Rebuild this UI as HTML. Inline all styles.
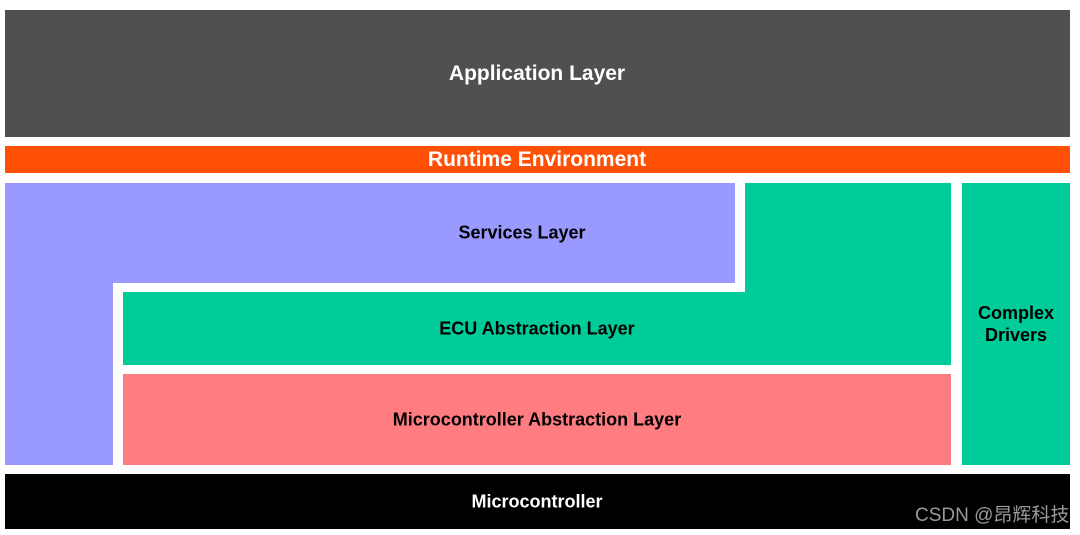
<!DOCTYPE html>
<html><head><meta charset="utf-8"><style>
body{margin:0;width:1080px;height:535px;background:#fff;position:relative;overflow:hidden;font-family:"Liberation Sans",Arial,sans-serif;font-weight:bold}
div.b{position:absolute}
.t{position:absolute;white-space:nowrap;transform:translate(-50%,-50%);text-align:center}
</style></head><body>
<div class="b" style="left:5px;top:10px;width:1065px;height:127px;background:#505050"></div>
<div class="t" style="left:537px;top:74px;color:#fff;font-size:21px">Application Layer</div>
<div class="b" style="left:5px;top:146px;width:1065px;height:27px;background:#ff5005"></div>
<div class="t" style="left:537px;top:160px;color:#fff;font-size:21px">Runtime Environment</div>
<div class="b" style="left:5px;top:183px;width:730px;height:100px;background:#9999ff"></div>
<div class="b" style="left:5px;top:283px;width:108px;height:182px;background:#9999ff"></div>
<div class="t" style="left:522px;top:233px;color:#000;font-size:18px">Services Layer</div>
<div class="b" style="left:745px;top:183px;width:206px;height:182px;background:#00cc99"></div>
<div class="b" style="left:123px;top:292px;width:828px;height:73px;background:#00cc99"></div>
<div class="t" style="left:537px;top:329px;color:#000;font-size:18px">ECU Abstraction Layer</div>
<div class="b" style="left:962px;top:183px;width:108px;height:282px;background:#00cc99"></div>
<div class="t" style="left:1016px;top:324px;color:#000;font-size:18px;line-height:22px">Complex<br>Drivers</div>
<div class="b" style="left:123px;top:374px;width:828px;height:91px;background:#ff7c80"></div>
<div class="t" style="left:537px;top:420px;color:#000;font-size:18px">Microcontroller Abstraction Layer</div>
<div class="b" style="left:5px;top:474px;width:1065px;height:55px;background:#000"></div>
<div class="t" style="left:537px;top:502px;color:#fff;font-size:18px">Microcontroller</div>
<div class="b" style="left:915px;top:504px;color:#999;font-weight:normal;font-size:19px;line-height:24px;font-family:'Liberation Sans','Noto Sans CJK SC',sans-serif;white-space:nowrap">CSDN @昂辉科技</div>
</body></html>
